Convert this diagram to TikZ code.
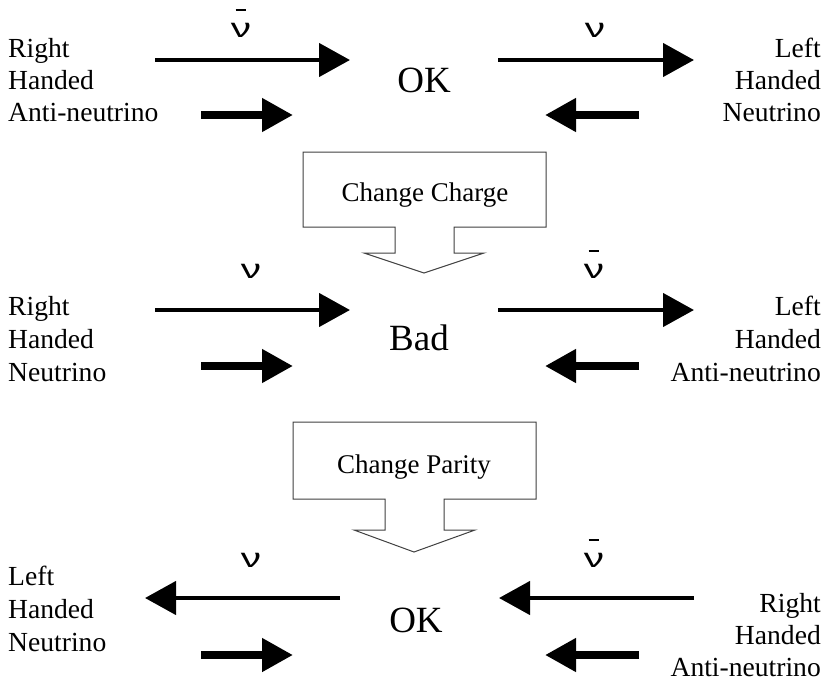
\documentclass[tikz,border=0pt]{standalone}
\usepackage{graphicx}
\usepackage{fontspec}
\setmainfont{Liberation Serif}
\newfontfamily\nufont{Liberation Sans}
\usetikzlibrary{arrows.meta}
\newcommand\nuglyph{\scalebox{1.5}[1]{\nufont ν}}
\newcommand\nubarglyph{\ooalign{\hfil\rule[0.95em]{0.4em}{0.075em}\hfil\cr\nuglyph\cr}}
\tikzset{
  side/.style={font=\fontsize{27.6}{33}\selectfont, inner sep=0pt},
  big/.style={font=\fontsize{37}{40}\selectfont, inner sep=0pt, anchor=base},
  lbl/.style={font=\fontsize{27}{30}\selectfont, inner sep=0pt, anchor=base},
  longarrow/.style={line width=4.5pt, -{Triangle[length=31pt,width=33pt]}},
  shortarrow/.style={line width=7.5pt, -{Triangle[length=31pt,width=32pt]}},
  changebox/.style={draw=black!75, line width=1pt, fill=white, line join=miter},
  boxtext/.style={font=\fontsize{27}{29}\selectfont, anchor=base, inner sep=0pt}
}
\begin{document}
\begin{tikzpicture}[x=1pt,y=-1pt]
\useasboundingbox (0,0) rectangle (832,683);

% ---------- Row 1 ----------
\node[side, anchor=base west] (r1a) at (8,57) {Right};
\node[side, anchor=base west] (r1b) at (8,89) {Handed};
\node[side, anchor=base west] (r1c) at (8,121) {Anti-neutrino};
\node[side, anchor=base east] (r1d) at (821,57) {Left};
\node[side, anchor=base east] (r1e) at (821,89) {Handed};
\node[side, anchor=base east] (r1f) at (821,121) {Neutrino};
\node[big] (ok1) at (424,92) {OK};
\node[lbl] (l1a) at (241,37) {\nubarglyph};
\node[lbl] (l1b) at (595,37) {\nuglyph};
\coordinate (p1a) at (155,60); \coordinate (q1a) at (350,60);
\coordinate (p1b) at (498,60); \coordinate (q1b) at (694,60);
\coordinate (p1c) at (201,115); \coordinate (q1c) at (293,115);
\coordinate (p1d) at (639,115); \coordinate (q1d) at (545,115);
\draw[longarrow] (p1a) -- (q1a);
\draw[longarrow] (p1b) -- (q1b);
\draw[shortarrow] (p1c) -- (q1c);
\draw[shortarrow] (p1d) -- (q1d);

% ---------- Change Charge ----------
\draw[changebox] (303,152) -- (546,152) -- (546,227) -- (454,227) -- (454,253)
  -- (484,253) -- (424,273) -- (364,253) -- (395,253) -- (395,227) -- (303,227) -- cycle;
\node[boxtext] (cc) at (425,201) {Change Charge};

% ---------- Row 2 ----------
\node[side, anchor=base west] (r2a) at (8,315) {Right};
\node[side, anchor=base west] (r2b) at (8,348) {Handed};
\node[side, anchor=base west] (r2c) at (8,381) {Neutrino};
\node[side, anchor=base east] (r2d) at (821,315) {Left};
\node[side, anchor=base east] (r2e) at (821,348) {Handed};
\node[side, anchor=base east] (r2f) at (821,381) {Anti-neutrino};
\node[big] (bad) at (419,350) {Bad};
\node[lbl] (l2a) at (251,278) {\nuglyph};
\node[lbl] (l2b) at (594,278) {\nubarglyph};
\coordinate (p2a) at (155,310); \coordinate (q2a) at (350,310);
\coordinate (p2b) at (498,310); \coordinate (q2b) at (694,310);
\coordinate (p2c) at (201,366); \coordinate (q2c) at (293,366);
\coordinate (p2d) at (639,366); \coordinate (q2d) at (545,366);
\draw[longarrow] (p2a) -- (q2a);
\draw[longarrow] (p2b) -- (q2b);
\draw[shortarrow] (p2c) -- (q2c);
\draw[shortarrow] (p2d) -- (q2d);

% ---------- Change Parity ----------
\draw[changebox] (293,422) -- (536,422) -- (536,499) -- (444,499) -- (444,530)
  -- (475,530) -- (414,552) -- (354,530) -- (385,530) -- (385,499) -- (293,499) -- cycle;
\node[boxtext] (cp) at (414,473) {Change Parity};

% ---------- Row 3 ----------
\node[side, anchor=base west] (r3a) at (8,585) {Left};
\node[side, anchor=base west] (r3b) at (8,618) {Handed};
\node[side, anchor=base west] (r3c) at (8,651) {Neutrino};
\node[side, anchor=base east] (r3d) at (821,612) {Right};
\node[side, anchor=base east] (r3e) at (821,644) {Handed};
\node[side, anchor=base east] (r3f) at (821,676) {Anti-neutrino};
\node[big] (ok3) at (416,632) {OK};
\node[lbl] (l3a) at (251,567) {\nuglyph};
\node[lbl] (l3b) at (594,567) {\nubarglyph};
\coordinate (p3a) at (340,598); \coordinate (q3a) at (145,598);
\coordinate (p3b) at (694,598); \coordinate (q3b) at (499,598);
\coordinate (p3c) at (201,655); \coordinate (q3c) at (293,655);
\coordinate (p3d) at (639,655); \coordinate (q3d) at (545,655);
\draw[longarrow] (p3a) -- (q3a);
\draw[longarrow] (p3b) -- (q3b);
\draw[shortarrow] (p3c) -- (q3c);
\draw[shortarrow] (p3d) -- (q3d);
\end{tikzpicture}
\end{document}
